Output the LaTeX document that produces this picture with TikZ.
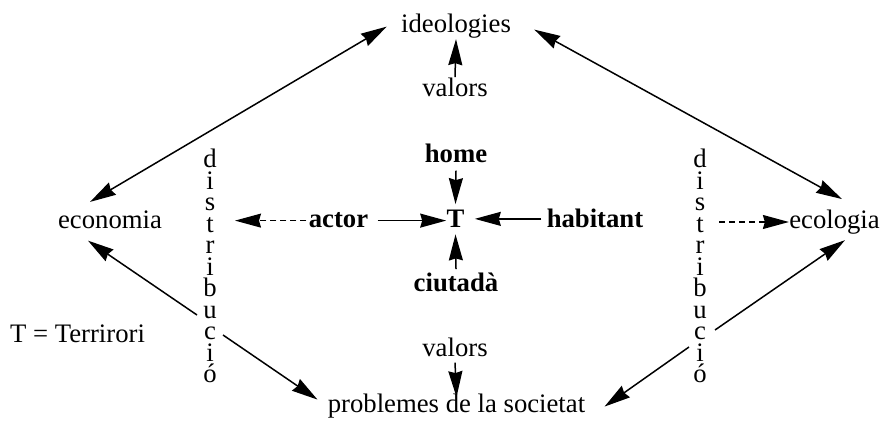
\documentclass[tikz,border=0pt]{standalone}
\usepackage{fontspec}
\setmainfont{Liberation Serif}
\usetikzlibrary{arrows.meta}
\tikzset{
  txt/.style={inner sep=0pt, anchor=base, font=\fontsize{13.35pt}{16pt}\selectfont},
  btxt/.style={txt, font=\fontsize{13.35pt}{16pt}\selectfont\bfseries},
  column/.style={inner sep=0pt, anchor=north, align=center, font=\fontsize{13.35pt}{10.75pt}\selectfont},
  arr/.style={line width=0.75pt, -{Stealth[length=13pt,width=7pt,inset=1pt]}},
  darr/.style={line width=0.75pt, {Stealth[length=13pt,width=7pt,inset=1pt]}-{Stealth[length=13pt,width=7pt,inset=1pt]}},
  dasharr/.style={arr, line width=0.6pt, dash pattern=on 3pt off 2pt}
}
\begin{document}
\begin{tikzpicture}[x=0.5pt,y=-0.5pt]
\useasboundingbox (0,0) rectangle (882,426);
% text nodes
\node[txt] (ideo) at (456,33) {ideologies};
\node[txt] (valT) at (455,97) {valors};
\node[btxt] (home) at (456,163) {home};
\node[btxt] (T) at (455.5,228) {T};
\node[btxt] (actor) at (338.5,228) {actor};
\node[btxt] (hab) at (595,228) {habitant};
\node[btxt] (ciut) at (456,292) {ciutadà};
\node[txt] (valB) at (455,357) {valors};
\node[txt] (prob) at (456.5,413) {problemes de la societat};
\node[txt] (eco) at (110,229) {economia};
\node[txt] (ecol) at (834.5,229) {ecologia};
\node[txt] (tdef) at (77.5,343) {T = Terrirori};
% vertical "distribució"
\node[column] (distL) at (210,149) {d\\i\\s\\t\\r\\i\\b\\u\\c\\i\\ó};
\node[column] (distR) at (700,149) {d\\i\\s\\t\\r\\i\\b\\u\\c\\i\\ó};
% free ends beside the vertical labels
\coordinate (cL1) at (197,315);
\coordinate (cL2) at (223,335);
\coordinate (cR1) at (715,330);
\coordinate (cR2) at (689,347);
\coordinate (dL) at (235,222);
\coordinate (dR) at (719,222);
% outer connectors
\draw[darr] ([xshift=-10pt,yshift=4.5pt]eco.north) -- ([xshift=-7pt]ideo.west);
\draw[darr] ([xshift=11.5pt,yshift=-1.5pt]ideo.east) -- ([xshift=3.75pt,yshift=5.5pt]ecol.north);
\draw[arr] (cL1) -- ([xshift=-11pt,yshift=-5.5pt]eco.south);
\draw[arr] (cL2) -- ([xshift=-5pt,yshift=3.5pt]prob.west);
\draw[arr] (cR1) -- ([xshift=5.25pt,yshift=-2.5pt]ecol.south);
\draw[arr] (cR2) -- ([xshift=9.5pt]prob.east);
% dashed
\draw[dasharr] ([xshift=-1pt]actor.west) -- (dL |- actor.west);
\draw[dasharr] (dR) -- (dR -| ecol.west);
% central
\draw[arr] ([xshift=4.5pt]actor.east) -- (actor.east -| T.west);
\draw[arr] ([xshift=-2.5pt]hab.west) -- ([xshift=5pt]hab.west -| T.east);
\draw[arr] ([yshift=-3.5pt]home.south) -- ([yshift=3pt]T.north);
\draw[arr] ([yshift=2pt]ciut.north) -- ([yshift=-3pt]T.south);
\draw[arr] ([yshift=0.5pt]valT.north) -- (ideo.south);
\draw[arr] ([yshift=-2.5pt]valB.south) -- ([yshift=-1.5pt]prob.north);
\end{tikzpicture}
\end{document}
